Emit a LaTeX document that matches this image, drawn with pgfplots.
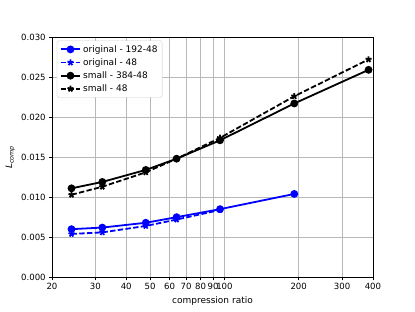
\documentclass[border=0pt]{standalone}
\usepackage{pgfplots}
\pgfplotsset{compat=1.18}
\usepackage{fontspec}
\setmainfont{DejaVu Sans}
\begin{document}
\begin{tikzpicture}
\useasboundingbox (0,0) rectangle (460.8pt,345.6pt);
\begin{axis}[
  at={(57.7pt,37.8pt)}, anchor=south west,
  scale only axis, width=356.4pt, height=266.7pt,
  xmode=log, xmin=20, xmax=400, ymin=0, ymax=0.030,
  log basis x=10,
  xtick={20,30,40,50,60,70,80,90,100,200,300,400},
  xticklabels={20,30,40,50,60,70,80,90,100,200,300,400},
  minor xtick={},
  ytick={0,0.005,0.010,0.015,0.020,0.025,0.030},
  yticklabels={0.000,0.005,0.010,0.015,0.020,0.025,0.030},
  scaled y ticks=false,
  tick align=outside, tick pos=left,
  major tick length=3.5pt,
  every tick/.style={black, line width=0.8pt},
  axis line style={line width=0.8pt},
  grid=major,
  major grid style={color=black!28, line width=0.9pt},
  tick label style={font=\fontsize{9.5}{12}\selectfont},
  /pgf/number format/assume math mode=true,
  xlabel={compression ratio},
  ylabel={\textit{L}\textsubscript{\textit{comp}}},
  ylabel style={at={(axis description cs:-0.13,0.5)}, anchor=center},
  label style={font=\fontsize{10}{12}\selectfont},
  legend style={at={(0.015,0.985)}, anchor=north west, draw=black!20, rounded corners=2pt, font=\fontsize{10}{12}\selectfont, cells={anchor=west}, row sep=1.5pt, inner sep=3pt},
  legend cell align=left,
  legend image code/.code={\draw[mark repeat=2,mark phase=2,#1] plot coordinates {(0pt,0pt) (11pt,0pt) (22pt,0pt)};},
  mydash/.style={dash pattern=on 6pt off 2.6pt},
]
\addplot[blue, line width=2pt, mark=*, mark size=3.3pt] coordinates {
(24,0.0060) (32,0.0062) (48,0.0068) (64,0.0075) (96,0.0085) (192,0.0104)};
\addlegendentry{original - 192-48}
\addplot[blue, line width=2pt, mydash, mark=star, mark size=3.5pt, mark options={solid}] coordinates {
(24,0.0054) (32,0.0056) (48,0.0064) (64,0.0072) (96,0.0084)};
\addlegendentry{original - 48}
\addplot[black, line width=2pt, mark=*, mark size=3.3pt] coordinates {
(24,0.0111) (32,0.0119) (48,0.0134) (64,0.0148) (96,0.0171) (192,0.0217) (384,0.0259)};
\addlegendentry{small - 384-48}
\addplot[black, line width=2pt, mydash, mark=star, mark size=3.5pt, mark options={solid}] coordinates {
(24,0.0103) (32,0.0113) (48,0.0131) (64,0.0148) (96,0.0174) (192,0.0226) (384,0.0272)};
\addlegendentry{small - 48}
\end{axis}
\end{tikzpicture}
\end{document}
